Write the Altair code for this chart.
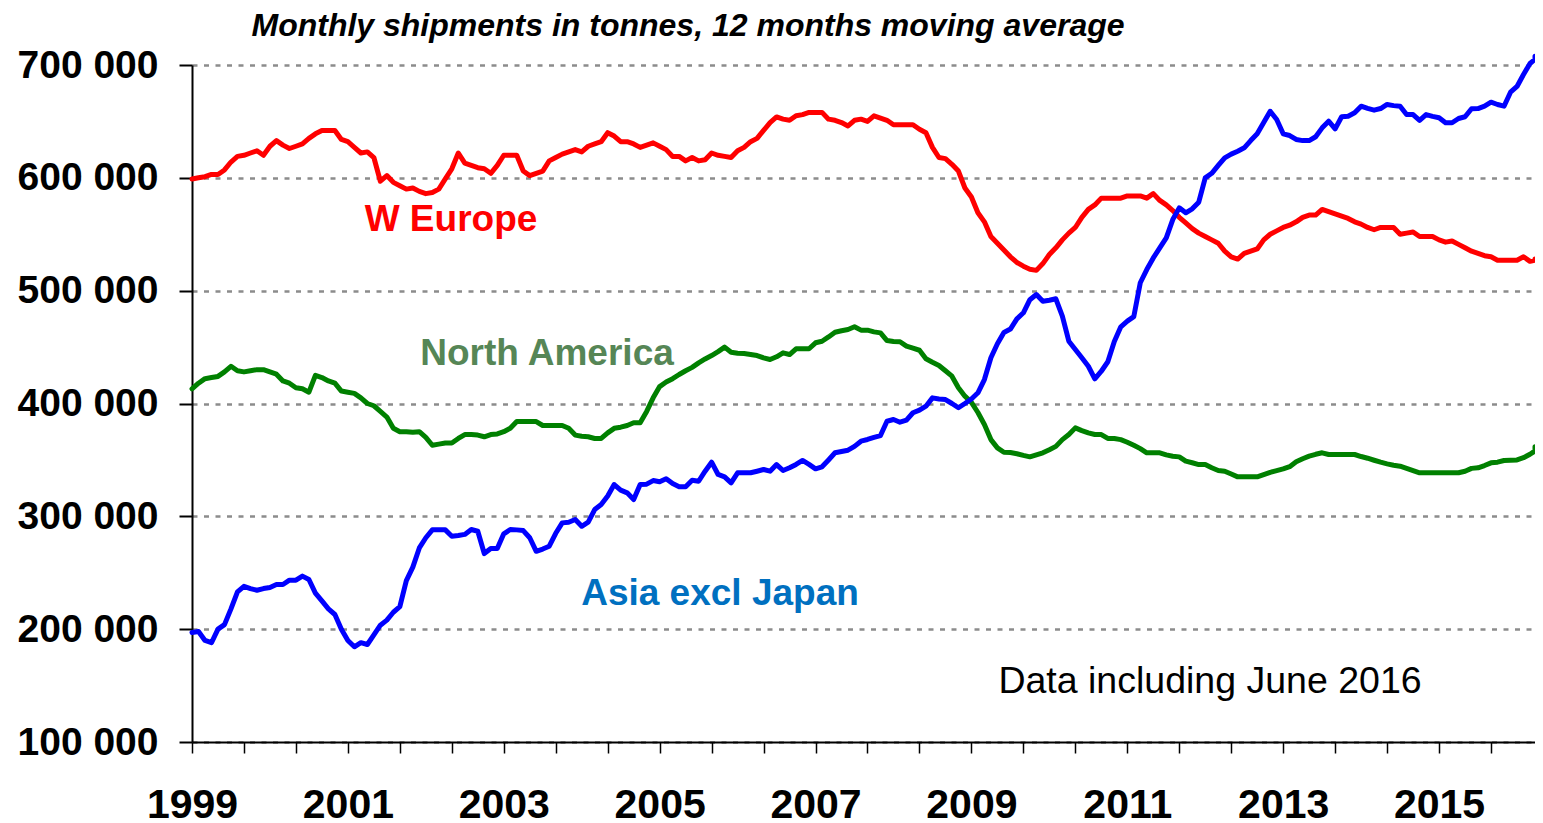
import altair as alt
import pandas as pd

START_YEAR = 1999

# Monthly shipments, 12 months moving average, thousand tonnes (Jan 1999 onwards)
w_europe = [
    599, 600, 601, 603, 603, 607, 614, 619, 620, 622,
    624, 620, 628, 633, 629, 626, 628, 630, 635, 639,
    642, 642, 642, 634, 632, 627, 622, 623, 618, 597,
    602, 596, 593, 590, 591, 588, 586, 587, 590, 599,
    608, 622, 613, 611, 609, 608, 604, 611, 620, 620,
    620, 606, 602, 604, 606, 615, 618, 621, 623, 625,
    623, 628, 630, 632, 640, 637, 632, 632, 630, 627,
    629, 631, 628, 625, 619, 619, 615, 618, 615, 616,
    622, 620, 619, 618, 624, 627, 632, 635, 642, 649,
    654, 652, 651, 655, 656, 658, 658, 658, 652, 651,
    649, 646, 651, 652, 650, 655, 653, 651, 647, 647,
    647, 647, 643, 640, 627, 618, 617, 612, 606, 591,
    583, 569, 561, 548, 542, 536, 530, 525, 521.7, 519,
    518, 524, 532, 538, 545, 551, 556, 565, 572, 576,
    582, 582, 582, 582, 584, 584, 584, 582, 586, 580,
    576, 571, 565, 560, 555, 551, 548, 545, 542, 535,
    530, 528, 533, 535, 537, 545, 550, 553, 556, 558,
    561, 565, 567, 567, 572, 570, 568, 566, 564, 561,
    559, 556, 554, 556, 556, 556, 550, 551, 552, 548,
    548, 548, 545, 543, 544, 541, 538, 535, 533, 531,
    530, 527, 527, 527, 527, 530, 526, 527, 528,
]

north_america = [
    413, 418, 422, 423, 424, 428, 433, 429, 428, 429,
    430, 430, 428, 426, 420, 418, 414, 413, 410, 425,
    423, 420, 418, 411, 410, 409, 405, 400, 398, 393,
    388, 378, 375, 375, 374.5, 375, 370, 363, 364, 365,
    365, 369, 372.5, 372.5, 372, 370.5, 372.5, 373, 375, 378,
    384, 384, 384, 384, 380.5, 380.5, 380.5, 380.5, 378, 372,
    371, 370.5, 369, 369, 374, 378, 379, 380.5, 383, 383,
    393, 405, 415, 419, 422, 425.7, 429, 432, 436, 439.5,
    442.5, 446, 450, 445.4, 444.5, 444.3, 443.5, 442.5, 440.5, 439,
    441.4, 444.9, 443.4, 448.5, 448.5, 448.5, 453.8, 455.2, 459, 463.2,
    464.5, 465.6, 468, 465, 465, 463.5, 462.6, 455.8, 455, 454.7,
    450.8, 449, 447.2, 439.6, 436.5, 433.7, 429, 424.2, 414, 406.5,
    401, 392, 381.4, 368, 360.7, 356.8, 356.5, 355.5, 354, 352.7,
    354.5, 356.3, 359, 362, 368, 372.5, 378.4, 376, 374, 372.5,
    372.5, 369, 369, 368, 365.7, 363, 360, 356.3, 356.3, 356.3,
    354.5, 353.3, 352.7, 348.9, 347.5, 345.9, 345.9, 343, 340.6, 340,
    337.5, 335, 335, 335, 335, 337, 339, 340.5, 342, 344,
    348.3, 351, 353.3, 355, 356.3, 354.8, 354.8, 354.8, 354.8, 354.8,
    353, 351.5, 349.7, 348, 346.5, 345.3, 344.4, 342.5, 340.5, 338.6,
    338.6, 338.6, 338.6, 338.6, 338.6, 338.6, 340, 342.5, 343, 345,
    347.4, 348, 349.5, 349.7, 350, 352, 355, 358, 361.6,
]

asia_excl_japan = [
    197, 198, 190, 188, 200, 204, 218, 233, 238, 236,
    234.5, 236, 237, 239.6, 239.6, 243.4, 243.4, 247, 244, 232,
    225, 218, 213, 200, 190, 184.4, 188, 186.4, 195, 203.5,
    208, 215, 220, 243, 255, 272, 281, 288, 288, 288,
    282.4, 283, 284, 288.3, 286.8, 267, 271.5, 271.5, 284.5, 288.3,
    288, 287.4, 281, 269, 271, 273.5, 285, 294.2, 294.8, 297.2,
    291.2, 294.8, 306, 310.5, 318, 328.2, 323.2, 320.8, 314.9, 328.2,
    328.5, 331.7, 330.6, 333.3, 329, 326.2, 326.2, 332, 331.1, 340,
    348, 337.1, 335, 329.7, 338.6, 338.6, 338.6, 340, 341.5, 340,
    345.9, 340.6, 343, 346, 349.5, 346, 342.1, 343.9, 350, 356.3,
    357.5, 358.6, 362, 366.6, 368.1, 370, 371.6, 384.3, 385.8, 383.4,
    385.2, 391.8, 394.1, 397.6, 405, 404, 403.5, 400, 396.2, 400,
    404, 409.5, 421.2, 440.5, 453, 463, 466, 475, 480.4, 492,
    496.6, 490.7, 491.5, 492.8, 477.4, 455.2, 447.8, 440.5, 433, 421.9,
    428.6, 437, 455, 468, 473, 477, 507, 518.7, 529, 538,
    546.8, 563, 573.4, 569, 572.5, 578.4, 600, 604, 611, 617.7,
    621, 623.6, 626.6, 633, 639, 649, 659, 651.7, 639, 637.5,
    634, 633, 633, 636.4, 644.3, 650.2, 643.4, 654.1, 654.6, 657.6,
    663.5, 661.5, 660, 661.4, 665, 664, 663.5, 656.1, 656.1, 651,
    656.1, 654.5, 653.2, 648.8, 648.8, 652.6, 654.1, 661.2, 661.4, 663.5,
    667, 665, 663.5, 675.9, 681, 691.6, 701.3, 705, 707.8,
]

series_names = ["W Europe", "North America", "Asia excl Japan"]
series_values = [w_europe, north_america, asia_excl_japan]
series_colors = ["#ff0000", "#008000", "#0000ff"]
label_colors = ["#ff0000", "#568656", "#0070c0"]

y_ticks = [100000, 200000, 300000, 400000, 500000, 600000, 700000]
x_max = 206.77          # right edge of the visible window, in months since Jan 1999
month_ticks = list(range(0, 207))

title_text = "Monthly shipments in tonnes, 12 months moving average"
note_text = "Data including June 2016"

FONT = "Liberation Sans"

frames = []
for name, vals in zip(series_names, series_values):
    frames.append(pd.DataFrame({
        "month": list(range(len(vals))),
        "tonnes": [v * 1000 for v in vals],
        "region": name,
    }))

x_enc = alt.X(
    "month:Q",
    title=None,
    scale=alt.Scale(domain=[0, x_max], nice=False, zero=False, clamp=True),
    axis=alt.Axis(
        values=month_ticks,
        labelExpr=f"datum.value % 24 == 0 ? toString({START_YEAR} + datum.value / 12) : ''",
        labelOverlap=False,
        labelFlush=False,
        grid=False,
        domainColor="black",
        domainWidth=2,
        tickColor="black",
        tickWidth=1.5,
        tickSize=11,
        labelFontSize=41,
        labelFontWeight="bold",
        labelColor="black",
        labelFont=FONT,
        labelPadding=32,
    ),
)

y_enc = alt.Y(
    "tonnes:Q",
    title=None,
    scale=alt.Scale(domain=[100000, 700000], nice=False, zero=False),
    axis=alt.Axis(
        values=y_ticks,
        labelExpr="floor(datum.value / 1000) + ' 000'",
        grid=True,
        gridColor="#8c8c8c",
        gridDash=[5, 6.5],
        gridWidth=2.5,
        domainColor="black",
        domainWidth=2,
        tickColor="black",
        tickWidth=2,
        tickSize=13,
        labelFontSize=39,
        labelFontWeight="bold",
        labelColor="black",
        labelFont=FONT,
        labelPadding=21,
    ),
)

layers = []
for i, (name, color) in enumerate(zip(series_names, series_colors)):
    base = alt.Chart(frames[i]).mark_line(
        color=color, strokeWidth=5, strokeJoin="round", strokeCap="round"
    )
    if i == 0:
        layers.append(base.encode(x=x_enc, y=y_enc))
    else:
        layers.append(base.encode(x="month:Q", y="tonnes:Q"))


def text_layer(text, px, py, color, size, weight="bold", style="normal"):
    return alt.Chart(pd.DataFrame({"label": [text]})).mark_text(
        x=px, y=py, align="center", baseline="alphabetic",
        font=FONT, fontSize=size, fontWeight=weight, fontStyle=style, color=color,
    ).encode(text="label:N")


annotations = [
    text_layer(title_text, 496, -29, "black", 32, "bold", "italic"),
    text_layer(series_names[0], 259, 166, label_colors[0], 37),
    text_layer(series_names[1], 355, 300, label_colors[1], 37),
    text_layer(series_names[2], 528, 540, label_colors[2], 37),
    text_layer(note_text, 1018, 628, "black", 37.5, "normal"),
]

chart = alt.layer(*layers, *annotations).properties(
    width=1343,
    height=677,
    padding={"left": 184, "top": 57, "right": 0, "bottom": 76},
    autosize=alt.AutoSizeParams(type="none"),
).configure_view(stroke=None)

chart.save("out.html", embed_options={"renderer": "svg", "actions": False})
